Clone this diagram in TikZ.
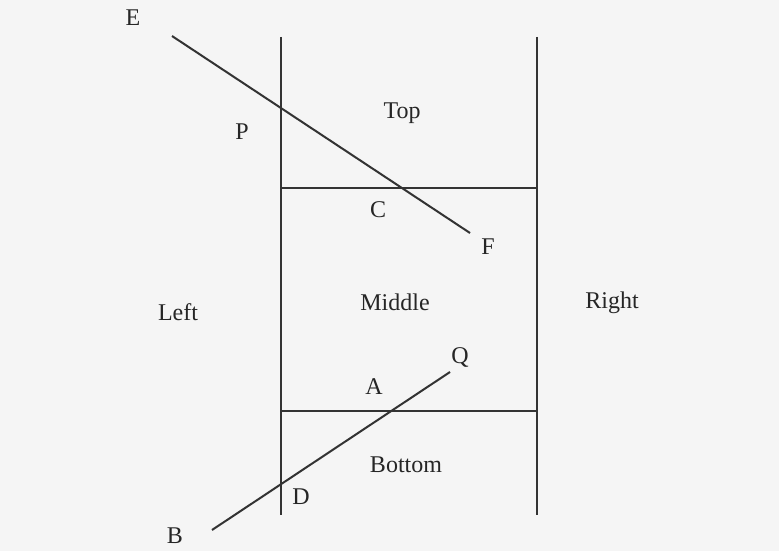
\documentclass[tikz,border=0pt]{standalone}
\usepackage{fontspec}
\setmainfont{Liberation Serif}
\begin{document}
\begin{tikzpicture}[x=1pt,y=-1pt,
  ln/.style={draw=black!80,line width=2pt},
  lbl/.style={font=\fontsize{24}{28}\selectfont,text=black!85,inner sep=0pt}]
\fill[black!4] (0,0) rectangle (779,551);
\useasboundingbox (0,0) rectangle (779,551);
% frame coordinates
\coordinate (LT) at (281,37);
\coordinate (LB) at (281,515);
\coordinate (RT) at (537,37);
\coordinate (RB) at (537,515);
\coordinate (HT1) at (281,188);
\coordinate (HT2) at (537,188);
\coordinate (HB1) at (281,411);
\coordinate (HB2) at (537,411);
\coordinate (Ee) at (172,36);
\coordinate (Fe) at (470,233);
\coordinate (Be) at (212,530);
\coordinate (Qe) at (450,372);
% lines
\draw[ln] (LT) -- (LB);
\draw[ln] (RT) -- (RB);
\draw[ln] (HT1) -- (HT2);
\draw[ln] (HB1) -- (HB2);
\draw[ln] (Ee) -- (Fe);
\draw[ln] (Be) -- (Qe);
% labels
\node[lbl] (E) at (133,18) {E};
\node[lbl] (P) at (242,132) {P};
\node[lbl] (Top) at (402,113) {Top};
\node[lbl] (C) at (378,210) {C};
\node[lbl] (F) at (488,247) {F};
\node[lbl] (Left) at (178,312) {Left};
\node[lbl] (Middle) at (395,302) {Middle};
\node[lbl] (Right) at (612,303) {Right};
\node[lbl] (Q) at (460,357) {Q};
\node[lbl] (A) at (374,387) {A};
\node[lbl] (Bottom) at (406,465) {Bottom};
\node[lbl] (D) at (301,497) {D};
\node[lbl] (B) at (175,536) {B};
\end{tikzpicture}
\end{document}
